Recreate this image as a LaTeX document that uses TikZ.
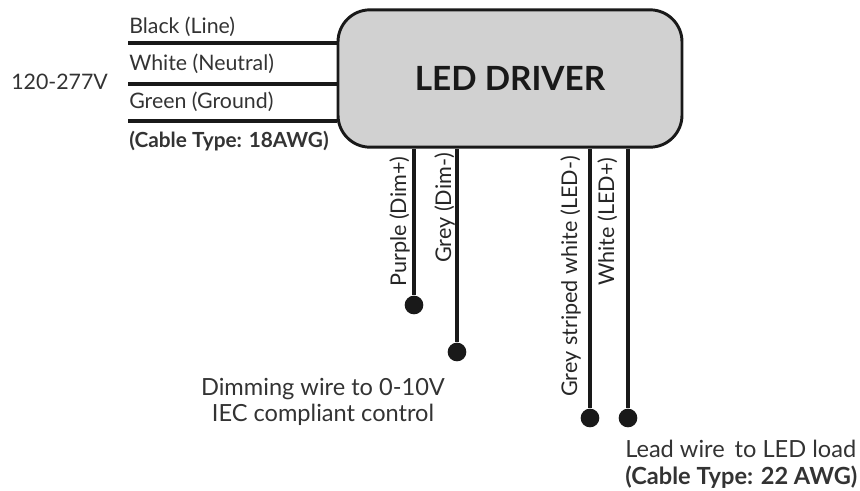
\documentclass[tikz,border=0pt]{standalone}
\usepackage{fontspec}
\setmainfont{Lato}
\usetikzlibrary{positioning}
\tikzset{
  wire/.style={line width=2.4pt, draw=black!90},
  wireend/.style={circle, fill=black!90, inner sep=0pt, minimum size=14pt},
  wirelabel/.style={inner sep=0pt, anchor=base west, font=\fontsize{16}{19}\selectfont, text=black!80},
  sidelabel/.style={inner sep=0pt, anchor=base west, rotate=90, font=\fontsize{16.2}{19}\selectfont, text=black!85},
  note/.style={inner sep=0pt, align=center, font=\fontsize{17.7}{20}\selectfont, text=black!80},
}
\begin{document}
\begin{tikzpicture}[x=0.75pt, y=-0.75pt]
  \useasboundingbox (0,0) rectangle (860,490);

  % driver box
  \node (driver) at (510,78.5) [draw=black!90, line width=2.2pt, fill=black!18, rounded corners=24pt,
    minimum width=258pt, minimum height=103pt, inner sep=0pt,
    font=\bfseries\fontsize{25}{28}\selectfont, text=black!90] {LED DRIVER};

  % mains side wires
  \coordinate (line_end) at (128,43);
  \coordinate (neutral_end) at (128,84);
  \coordinate (ground_end) at (128,121);
  \draw [wire] (line_end) -- (line_end -| driver.west);
  \draw [wire] (neutral_end) -- (neutral_end -| driver.west);
  \draw [wire] (ground_end) -- (ground_end -| driver.west);

  \node [wirelabel] (line_label) at (129,33) {Black (Line)};
  \node [wirelabel] (neutral_label) at (129,70) {White (Neutral)};
  \node [wirelabel] (ground_label) at (129,108) {Green (Ground)};
  \node [wirelabel, font=\bfseries\fontsize{15.6}{19}\selectfont] (cable_in) at (129,147) {(Cable Type: 18AWG)};
  \node [wirelabel] (voltage) at (11,89) {120-277V};

  % wire ends below the box
  \node [wireend] (dim_plus) at (414,305) {};
  \node [wireend] (dim_minus) at (457,352) {};
  \node [wireend] (led_minus) at (590,418) {};
  \node [wireend] (led_plus) at (628,418) {};
  \draw [wire] (dim_plus) -- (dim_plus |- driver.south);
  \draw [wire] (dim_minus) -- (dim_minus |- driver.south);
  \draw [wire] (led_minus) -- (led_minus |- driver.south);
  \draw [wire] (led_plus) -- (led_plus |- driver.south);

  % labels along the wires
  \node [sidelabel] (dim_plus_label) at (406,287) {Purple (Dim+)};
  \node [sidelabel] (dim_minus_label) at (451,263) {Grey (Dim-)};
  \node [sidelabel] (led_minus_label) at (577,397) {Grey striped white (LED-)};
  \node [sidelabel] (led_plus_label) at (614,286) {White (LED+)};

  % notes
  \node [note] (dim_note) at (323,402) {Dimming wire to 0-10V\\IEC compliant control};
  \node [note, align=left, anchor=north west] (load_note) at (625,440)
    {Lead wire\, to LED load\\{\bfseries (Cable Type: 22 AWG)}};
\end{tikzpicture}
\end{document}
